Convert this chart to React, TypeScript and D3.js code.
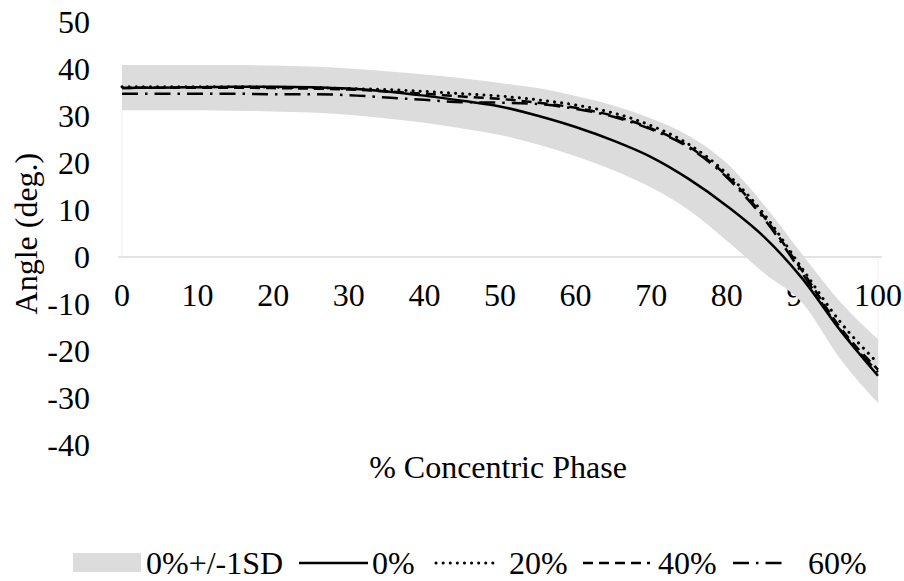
import React from "react";
import * as d3 from "d3";

const pct = [0, 5, 10, 15, 20, 25, 30, 35, 40, 45, 50, 55, 60, 65, 70, 75, 80, 85, 90, 95, 100];
const sdUpper = [40.9, 40.9, 40.9, 40.9, 40.8, 40.6, 40.2, 39.6, 38.9, 38.1, 37.1, 36.0, 34.3, 32.3, 29.5, 25.8, 20.0, 11.0, 0.5, -9.5, -17.5];
const sdLower = [31.3, 31.3, 31.3, 31.2, 31.0, 30.8, 30.3, 29.5, 28.6, 27.4, 26.0, 24.0, 21.5, 18.5, 14.8, 10.0, 3.5, -3.5, -9.8, -21.7, -31.1];
const s0 = [36.0, 36.1, 36.2, 36.3, 36.3, 36.2, 35.9, 35.3, 34.4, 33.3, 32.1, 30.1, 27.7, 24.8, 21.3, 16.6, 10.9, 4.2, -4.6, -15.6, -25.3];
const s20 = [36.3, 36.3, 36.3, 36.3, 36.2, 36.1, 35.9, 35.7, 35.3, 34.8, 34.3, 33.5, 32.4, 30.7, 28.0, 24.0, 17.8, 9.0, -2.5, -13.8, -22.6];
const s40 = [36.0, 36.1, 36.1, 36.1, 36.0, 35.9, 35.7, 35.3, 34.8, 34.2, 33.7, 32.9, 31.8, 30.1, 27.4, 23.5, 17.3, 8.4, -3.0, -15.0, -24.0];
const s60 = [34.8, 34.8, 34.8, 34.8, 34.7, 34.7, 34.5, 34.0, 33.5, 33.0, 32.9, 32.6, 31.6, 29.9, 27.2, 23.3, 17.0, 8.0, -3.5, -15.5, -24.5];
const yTicks = [50, 40, 30, 20, 10, 0, -10, -20, -30, -40];
const xTicks = [0, 10, 20, 30, 40, 50, 60, 70, 80, 90, 100];

const FONT = "'Liberation Serif', 'Times New Roman', serif";

export default function App() {
  const x = d3.scaleLinear().domain([0, 100]).range([122, 878]);
  const y = d3.scaleLinear().domain([-40, 50]).range([444.8, 22.4]);

  const band = d3
    .area<number>()
    .x((_, i) => x(pct[i]))
    .y0((_, i) => y(sdLower[i]))
    .y1((_, i) => y(sdUpper[i]))
    .curve(d3.curveMonotoneX);

  const line = (vals: number[]) =>
    d3
      .line<number>()
      .x((_, i) => x(pct[i]))
      .y((d) => y(d))
      .curve(d3.curveMonotoneX)(vals) || "";

  const series = [
    { name: "0%", vals: s0, dash: "", cap: "butt", w: 2.5 },
    { name: "20%", vals: s20, dash: "0.1 7", cap: "round", w: 3 },
    { name: "40%", vals: s40, dash: "10 6", cap: "butt", w: 2.5 },
    { name: "60%", vals: s60, dash: "16 7 2.5 7", cap: "butt", w: 2.5 },
  ];

  const legendY = 563;
  const legendLines = [
    { x1: 299, x2: 368, tx: 372, s: series[0] },
    { x1: 436, x2: 499, tx: 509, s: series[1] },
    { x1: 583, x2: 650, tx: 658, s: series[2] },
    { x1: 733, x2: 785, tx: 808, s: series[3] },
  ];

  return (
    <svg
      width={904}
      height={581}
      style={{ position: "absolute", left: 0, top: 0, background: "#fff" }}
      fontFamily={FONT}
      fontSize={32}
    >
      <rect x={0} y={0} width={904} height={581} fill="#fff" />
      {/* axis line */}
      <line x1={118} x2={882} y1={y(0)} y2={y(0)} stroke="#d9d9d9" strokeWidth={1.5} />
      {/* faint base-area edges */}
      <line x1={x(0)} x2={x(0)} y1={y(sdLower[0])} y2={y(0)} stroke="#f0f0f0" strokeWidth={1} />
      <line x1={x(100)} x2={x(100)} y1={y(0)} y2={y(sdLower[sdLower.length - 1])} stroke="#f0f0f0" strokeWidth={1} />
      {/* tick labels */}
      {yTicks.map((t) => (
        <text key={"y" + t} x={90} y={y(t) + 10.8} textAnchor="end" fill="#000">
          {t}
        </text>
      ))}
      {xTicks.map((t) => (
        <text key={"x" + t} x={x(t)} y={306} textAnchor="middle" fill="#000">
          {t}
        </text>
      ))}
      {/* band */}
      <path d={band(pct.map(() => 0)) || ""} fill="#dcdcdc" />
      {/* lines */}
      {series.map((s) => (
        <path
          key={s.name}
          d={line(s.vals)}
          fill="none"
          stroke="#000"
          strokeWidth={s.w}
          strokeDasharray={s.dash || undefined}
          strokeLinecap={s.cap as any}
        />
      ))}
      {/* titles */}
      <text x={498} y={478} textAnchor="middle" fill="#000">
        % Concentric Phase
      </text>
      <text transform={`translate(37, ${(y(50) + y(-40)) / 2}) rotate(-90)`} textAnchor="middle" fill="#000">
        Angle (deg.)
      </text>
      {/* legend */}
      <rect x={73} y={553} width={68} height={19} fill="#dcdcdc" />
      <text x={146} y={574} fill="#000">0%+/-1SD</text>
      {legendLines.map((l) => (
        <g key={l.s.name}>
          <line
            x1={l.x1}
            x2={l.x2}
            y1={legendY}
            y2={legendY}
            stroke="#000"
            strokeWidth={l.s.w}
            strokeDasharray={l.s.dash || undefined}
            strokeLinecap={l.s.cap as any}
          />
          <text x={l.tx} y={574} fill="#000">
            {l.s.name}
          </text>
        </g>
      ))}
    </svg>
  );
}
